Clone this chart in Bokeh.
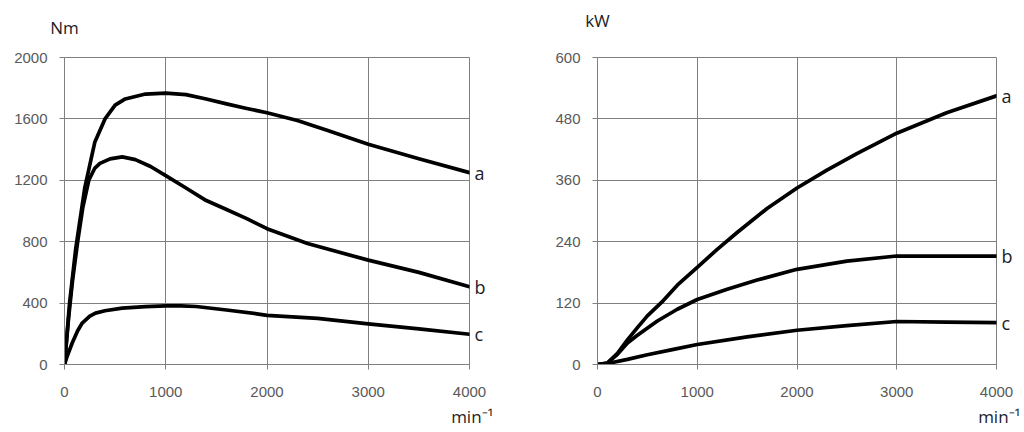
from bokeh.plotting import figure
from bokeh.layouts import row
from bokeh.models import FixedTicker, Range1d, LinearAxis, Title
from bokeh.embed import file_html
from bokeh.resources import INLINE

# ---------------- data ----------------
x_ticks = [0, 1000, 2000, 3000, 4000]
torque_ticks = [0, 400, 800, 1200, 1600, 2000]
power_ticks = [0, 120, 240, 360, 480, 600]

torque_a_x = [0, 50, 110, 200, 300, 400, 500, 600, 800, 1000, 1200, 1400, 1600, 1800, 2000, 2300, 2600, 3000, 3500, 4000]
torque_a_y = [0, 400, 750, 1150, 1450, 1600, 1690, 1730, 1762, 1768, 1758, 1730, 1698, 1668, 1640, 1590, 1525, 1435, 1340, 1250]

torque_b_x = [0, 40, 80, 130, 180, 240, 300, 350, 450, 570, 700, 850, 1000, 1200, 1400, 1600, 1800, 2000, 2400, 3000, 3500, 4000]
torque_b_y = [0, 300, 550, 800, 1020, 1200, 1280, 1310, 1340, 1353, 1335, 1290, 1230, 1150, 1068, 1010, 950, 885, 788, 680, 600, 507]

torque_c_x = [0, 30, 76, 130, 175, 250, 306, 400, 570, 800, 1000, 1150, 1300, 1600, 1900, 2000, 2500, 3000, 3500, 4000]
torque_c_y = [0, 60, 140, 220, 270, 315, 335, 350, 367, 377, 382, 382, 378, 355, 330, 320, 300, 265, 232, 197]

power_a_x = [0, 100, 200, 300, 400, 500, 660, 800, 1000, 1200, 1400, 1700, 2000, 2300, 2600, 3000, 3500, 4000]
power_a_y = [0, 3, 22, 48, 72, 95, 125, 155, 190, 225, 258, 305, 345, 380, 412, 452, 492, 525]

power_b_x = [0, 100, 200, 300, 400, 600, 800, 1000, 1300, 1600, 2000, 2500, 3000, 3500, 4000]
power_b_y = [0, 3, 20, 42, 57, 85, 108, 127, 147, 165, 186, 202, 212, 212, 212]

power_c_x = [0, 100, 300, 500, 750, 1000, 1500, 2000, 2500, 3000, 3500, 4000]
power_c_y = [0, 2, 10, 19, 29, 39, 54, 67, 76, 84, 83, 82]

series_names = ["a", "b", "c"]
x_unit = "min\u207b\u00b9"

# ---------------- style ----------------
GRID = "#808080"
TICK_COLOR = "#595959"
TEXT_COLOR = "#1c1c28"
LINE_W = 3.7
FIG_H = 432


def text_axis(ticks, labels, standoff, size):
    """An axis without line or ticks, used only to place a few texts."""
    return LinearAxis(ticker=FixedTicker(ticks=ticks),
                      major_label_overrides={t: s for t, s in zip(ticks, labels)},
                      axis_line_color=None, major_tick_line_color=None,
                      minor_tick_line_color=None, major_tick_in=0, major_tick_out=0,
                      major_label_standoff=standoff,
                      major_label_text_font="Open Sans",
                      major_label_text_font_size=size,
                      major_label_text_color=TEXT_COLOR)


def make_panel(width, border_left, border_right, border_top, border_bottom,
               y_max, y_ticks, unit, xs, ys, unit_standoff, xunit_offset):
    p = figure(width=width, height=FIG_H, output_backend="svg", toolbar_location=None,
               x_range=Range1d(0, 4000), y_range=Range1d(0, y_max),
               min_border_left=border_left, min_border_right=border_right,
               min_border_top=border_top, min_border_bottom=border_bottom,
               background_fill_color="white", border_fill_color="white")
    p.outline_line_color = GRID
    p.outline_line_width = 1
    for ax, ticks, standoff in ((p.xaxis[0], x_ticks, 17), (p.yaxis[0], y_ticks, 12)):
        ax.ticker = FixedTicker(ticks=ticks)
        ax.axis_line_color = GRID
        ax.axis_line_width = 1
        ax.major_tick_line_color = GRID
        ax.major_tick_in = 0
        ax.major_tick_out = 5
        ax.minor_tick_line_color = None
        ax.major_label_text_font = "Liberation Sans"
        ax.major_label_text_font_size = "15px"
        ax.major_label_text_color = TICK_COLOR
        ax.major_label_standoff = standoff
    p.xgrid.ticker = FixedTicker(ticks=x_ticks)
    p.ygrid.ticker = FixedTicker(ticks=y_ticks)
    for g in (p.xgrid[0], p.ygrid[0]):
        g.grid_line_color = GRID
        g.grid_line_width = 1

    for x, y in zip(xs, ys):
        p.line(x, y, line_color="black", line_width=LINE_W, line_join="round", line_cap="round")

    # curve names at the end of each curve
    ends = [y[-1] for y in ys]
    p.add_layout(text_axis(ends, series_names, 5, "18px"), "right")

    # y unit above the y axis
    p.add_layout(text_axis([x_ticks[0]], [unit], unit_standoff, "17px"), "above")

    # x unit under the right end of the x axis
    p.add_layout(Title(text=x_unit, align="right", offset=xunit_offset, standoff=7,
                       text_font="Open Sans", text_font_size="17px",
                       text_font_style="normal", text_color=TEXT_COLOR), "below")
    return p


left = make_panel(528, 64, 59, 56, 67, 2000, torque_ticks, "Nm",
                  [torque_a_x, torque_b_x, torque_c_x],
                  [torque_a_y, torque_b_y, torque_c_y], 19, -24)
right = make_panel(496, 69, 28, 57, 68, 600, power_ticks, "kW",
                   [power_a_x, power_b_x, power_c_x],
                   [power_a_y, power_b_y, power_c_y], 26, -24)

layout = row(left, right, spacing=0)
open("out.html", "w").write(file_html(layout, INLINE))
